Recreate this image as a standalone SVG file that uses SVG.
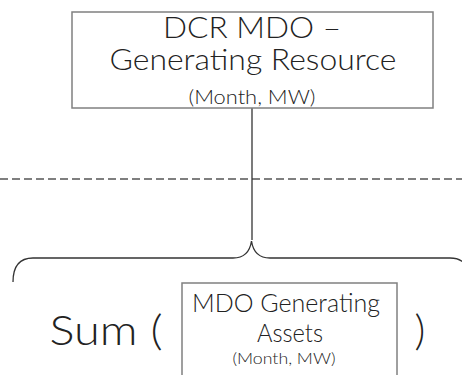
<svg xmlns="http://www.w3.org/2000/svg" width="462" height="375" viewBox="0 0 462 375">
<style>
.box{fill:#fff;stroke:#808080;stroke-width:1.5}
.t{font-family:Lato,"Open Sans","Liberation Sans",sans-serif;font-weight:300;fill:#222;text-anchor:middle}
.ln{fill:none;stroke:#333;stroke-width:1.3}
.dash{fill:none;stroke:#555;stroke-width:1.5;stroke-dasharray:8 4}
</style>
<rect width="462" height="375" fill="#fff"/>
<g id="connectors">
<line class="dash" x1="0" y1="179" x2="462" y2="179"/>
<path class="ln" d="M252,108 V240"/>
<path class="ln" d="M13,282 Q13,258 33,258 H233 Q249,258 251.5,241 Q254,258 270,258 H450 Q470,258 470,282"/>
</g>
<g id="dcr-mdo">
<rect class="box" x="72" y="12" width="361" height="96"/>
<text class="t" x="252" y="38" font-size="29" textLength="178" lengthAdjust="spacingAndGlyphs">DCR MDO –</text>
<text class="t" x="253" y="70" font-size="29" textLength="287" lengthAdjust="spacingAndGlyphs">Generating Resource</text>
<text class="t" x="252" y="104" font-size="19" textLength="127" lengthAdjust="spacingAndGlyphs">(Month, MW)</text>
</g>
<g id="sum">
<text class="t" x="106" y="345" font-size="42" textLength="113" lengthAdjust="spacingAndGlyphs">Sum (</text>
<text class="t" x="420" y="345" font-size="42">)</text>
</g>
<g id="mdo-assets">
<rect class="box" x="182" y="283" width="215" height="100"/>
<text class="t" x="286" y="312" font-size="25" textLength="188" lengthAdjust="spacingAndGlyphs">MDO Generating</text>
<text class="t" x="290" y="342" font-size="25" textLength="66" lengthAdjust="spacingAndGlyphs">Assets</text>
<text class="t" x="284" y="364" font-size="16" textLength="103" lengthAdjust="spacingAndGlyphs">(Month, MW)</text>
</g>
</svg>
